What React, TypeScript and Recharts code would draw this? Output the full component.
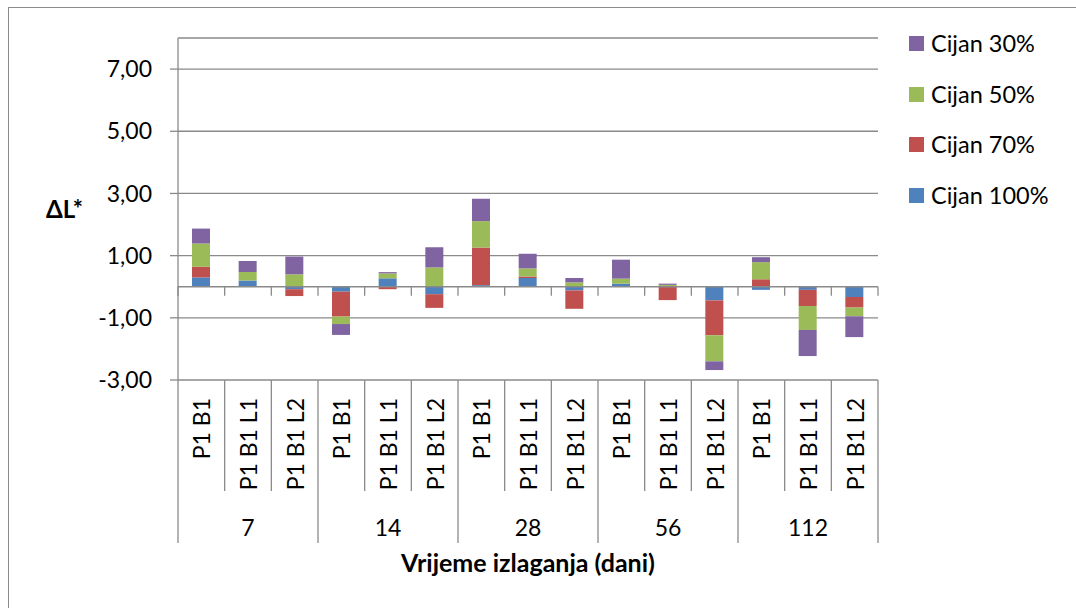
import React from 'react';
import { BarChart, Bar, XAxis, YAxis, CartesianGrid, ReferenceLine, Label } from 'recharts';

const CATEGORIES = [
  'P1 B1', 'P1 B1 L1', 'P1 B1 L2',
  'P1 B1', 'P1 B1 L1', 'P1 B1 L2',
  'P1 B1', 'P1 B1 L1', 'P1 B1 L2',
  'P1 B1', 'P1 B1 L1', 'P1 B1 L2',
  'P1 B1', 'P1 B1 L1', 'P1 B1 L2',
];
const GROUPS = ['7', '14', '28', '56', '112'];

const CIJAN_100 = [0.30, 0.20, -0.08, -0.16, 0.27, -0.24, 0.05, 0.28, -0.12, 0.10, 0.00, -0.44, -0.10, -0.10, -0.33];
const CIJAN_70 = [0.34, 0.00, -0.22, -0.80, -0.08, -0.44, 1.21, 0.05, -0.59, 0.00, -0.43, -1.12, 0.24, -0.52, -0.34];
const CIJAN_50 = [0.75, 0.27, 0.40, -0.24, 0.16, 0.62, 0.85, 0.26, 0.14, 0.16, 0.06, -0.84, 0.55, -0.77, -0.28];
const CIJAN_30 = [0.48, 0.36, 0.57, -0.35, 0.04, 0.65, 0.72, 0.47, 0.14, 0.61, 0.04, -0.28, 0.16, -0.84, -0.67];

const Y_TICKS = [-3, -1, 1, 3, 5, 7];

const SERIES = [
  { key: 'c100', name: 'Cijan 100%', color: '#4F81BD', values: CIJAN_100 },
  { key: 'c70', name: 'Cijan 70%', color: '#C0504D', values: CIJAN_70 },
  { key: 'c50', name: 'Cijan 50%', color: '#9BBB59', values: CIJAN_50 },
  { key: 'c30', name: 'Cijan 30%', color: '#8064A2', values: CIJAN_30 },
];

const data = CATEGORIES.map((label, i) => {
  const row: any = { idx: i, label, group: GROUPS[Math.floor(i / 3)] };
  SERIES.forEach((s) => { row[s.key] = s.values[i]; });
  return row;
});

const FONT = 'Lato, "Open Sans", sans-serif';
const GRID = '#8a8a8a';
const FS = 23;
const FS_LEGEND = 23.5;
const FS_TITLE = 25;

const CategoryTick = (props: any) => {
  const { x, y, payload, index } = props;
  const i = typeof index === 'number' ? index : payload.value;
  const half = payload && typeof payload.offset === 'number' && payload.offset > 0 ? payload.offset : 700 / CATEGORIES.length / 2;
  const left = x - half;
  const right = x + half;
  const isGroupStart = i % 3 === 0;
  const isLast = i === CATEGORIES.length - 1;
  return (
    <g>
      <line x1={left} y1={y} x2={left} y2={y + (isGroupStart ? 163 : 111)} stroke={GRID} strokeWidth={1.3} />
      {isLast && <line x1={right} y1={y} x2={right} y2={y + 163} stroke={GRID} strokeWidth={1.3} />}
      <text
        x={x}
        y={y + 18}
        transform={`rotate(-90, ${x}, ${y + 18})`}
        textAnchor="end"
        dominantBaseline="central"
        fontSize={FS}
        fontFamily={FONT}
        fill="#000"
      >
        {CATEGORIES[i]}
      </text>
      {i % 3 === 1 && (
        <text x={x} y={y + 147} textAnchor="middle" dominantBaseline="central" fontSize={FS} fontFamily={FONT} fill="#000">
          {GROUPS[Math.floor(i / 3)]}
        </text>
      )}
    </g>
  );
};

const ZeroAxis = (props: any) => {
  const { x1, x2, y1 } = props;
  const n = CATEGORIES.length;
  const step = (x2 - x1) / n;
  const ticks = [];
  for (let k = 0; k <= n; k++) {
    const tx = x1 + k * step;
    ticks.push(<line key={k} x1={tx} y1={y1} x2={tx} y2={y1 + 9} stroke={GRID} strokeWidth={1.3} />);
  }
  return (
    <g>
      <line x1={x1} y1={y1} x2={x2} y2={y1} stroke={GRID} strokeWidth={1.3} />
      {ticks}
    </g>
  );
};

const LegendBox = () => {
  const items = [...SERIES].reverse();
  return (
    <div style={{ position: 'absolute', left: 909, top: 36 }}>
      {items.map((s, i) => (
        <div key={s.key} style={{ position: 'absolute', left: 0, top: i * 50.7, height: 15, whiteSpace: 'nowrap' }}>
          <div style={{ position: 'absolute', left: 0, top: 0, width: 15, height: 15, background: s.color }} />
          <div style={{ position: 'absolute', left: 22, top: -8, lineHeight: '30px', fontSize: FS_LEGEND, fontFamily: FONT, color: '#000' }}>{s.name}</div>
        </div>
      ))}
    </div>
  );
};

export default function App() {
  return (
    <div style={{ position: 'absolute', left: 0, top: 0, width: 1076, height: 608, overflow: 'hidden', background: '#fff' }}>
      <div style={{ position: 'absolute', left: 8, top: 7, width: 1100, height: 700, border: '1px solid #8c8c8c' }} />
      <div style={{ position: 'absolute', left: 0, top: 0 }}>
        <BarChart
          width={1076}
          height={608}
          data={data}
          stackOffset="sign"
          margin={{ top: 38, right: 198, bottom: 63, left: 0 }}
          barSize={18}
        >
          <CartesianGrid vertical={false} stroke={GRID} strokeWidth={1.3} />
          <XAxis
            dataKey="idx"
            type="category"
            interval={0}
            axisLine={false}
            tickLine={false}
            tickSize={0}
            tickMargin={0}
            height={165}
            tick={<CategoryTick />}
          >
            <Label
              value="Vrijeme izlaganja (dani)"
              position="bottom"
              offset={9}
              fill="#000"
              fontSize={FS_TITLE}
              fontFamily={FONT}
              fontWeight={700}
            />
          </XAxis>
          <YAxis
            type="number"
            domain={[-3, 8]}
            ticks={Y_TICKS}
            interval={0}
            width={178}
            tickSize={8}
            tickMargin={18}
            axisLine={{ stroke: GRID, strokeWidth: 1.3 }}
            tickLine={{ stroke: GRID, strokeWidth: 1.3 }}
            tick={{ fill: '#000', fontSize: FS, fontFamily: FONT }}
            tickFormatter={(v: number) => v.toFixed(2).replace('.', ',')}
            allowDataOverflow
          >
            <Label
              value="ΔL*"
              position="insideLeft"
              offset={46}
              fill="#000"
              fontSize={24}
              fontFamily={FONT}
              fontWeight={700}
            />
          </YAxis>
          {SERIES.map((s) => (
            <Bar key={s.key} dataKey={s.key} name={s.name} stackId="a" fill={s.color} isAnimationActive={false} />
          ))}
          <ReferenceLine y={0} shape={<ZeroAxis />} />
        </BarChart>
      </div>
      <LegendBox />
    </div>
  );
}
